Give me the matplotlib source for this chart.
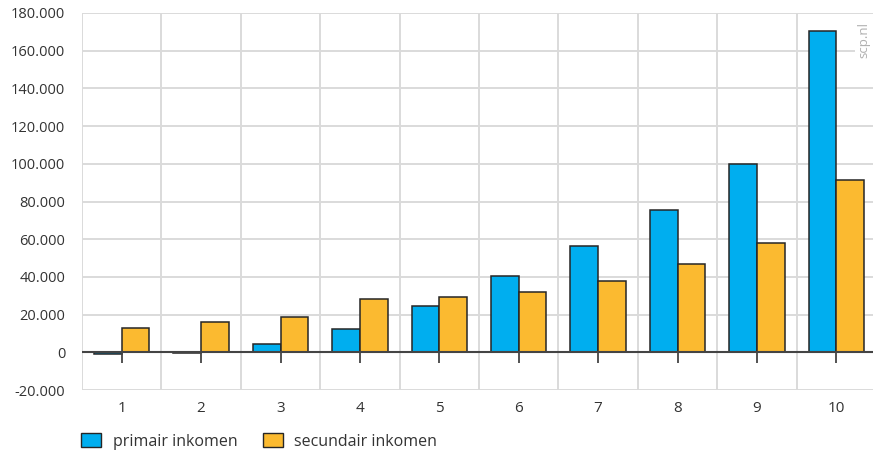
import numpy as np
import matplotlib.pyplot as plt
from matplotlib.patches import Patch
from matplotlib.ticker import FuncFormatter

plt.rcParams['font.family'] = ['Open Sans', 'DejaVu Sans']

#--------------------------------------
categories = ['1', '2', '3', '4', '5', '6', '7', '8', '9', '10']
primair    = [-1000, -300, 4300, 12300, 24500, 40300, 56300, 75400, 99700, 170700]
secundair  = [12800, 15900, 18700, 28100, 29300, 31900, 37700, 46700, 57900, 91200]
yticks     = np.arange(-20000, 180001, 20000)
#--------------------------------------
blue   = '#00aeef'
orange = '#fbba30'
edge   = '#262626'
grid   = '#dadada'
text   = '#333333'

fig = plt.figure(figsize=(8.73, 4.54), dpi=100)
ax  = fig.add_axes([82/873, 1-390/454, 794/873, 377/454])

x = np.arange(len(categories))
w = 0.35
ax.bar(x-w/2, primair, w, color=blue, edgecolor=edge, linewidth=1.1, zorder=3)
ax.bar(x+w/2, secundair, w, color=orange, edgecolor=edge, linewidth=1.1, zorder=3)

ax.set_xlim(-0.5, len(categories)-0.5)
ax.set_ylim(-20000, 180000)

# grid
ax.set_yticks(yticks)
ax.set_xticks(x)
ax.set_xticklabels(categories)
ax.set_xticks(np.arange(-0.5, len(categories)), minor=True)
ax.grid(True, which='major', axis='y', color=grid, linewidth=1.4, zorder=0)
ax.grid(True, which='minor', axis='x', color=grid, linewidth=1.4, zorder=0)
ax.tick_params(which='both', length=0)
ax.tick_params(axis='y', pad=12, labelsize=10.5, labelcolor=text)
ax.tick_params(axis='x', pad=8, labelsize=11, labelcolor=text)
ax.yaxis.set_major_formatter(FuncFormatter(lambda v, p: '{:,.0f}'.format(v).replace(',', '.')))
for s in ax.spines.values():
    s.set_visible(False)

# zero line + tick marks
ax.axhline(0, color='#444444', linewidth=1.5, zorder=4)
ax.plot(x, np.zeros(len(x)), linestyle='none', marker=3, markersize=8,
        markeredgewidth=1.3, color='#444444', zorder=4, clip_on=False)

ax.text(0.985, 0.975, 'scp.nl', transform=ax.transAxes, rotation=90,
        ha='center', va='top', fontsize=9.5, color='#b0b0b0', zorder=5,
        bbox=dict(facecolor='white', edgecolor='none', pad=1.5))

handles = [Patch(facecolor=blue, edgecolor=edge, label='primair inkomen'),
           Patch(facecolor=orange, edgecolor=edge, label='secundair inkomen')]
fig.legend(handles=handles, loc='lower left', bbox_to_anchor=(67/873, -0.022),
           ncol=2, frameon=False, fontsize=11.5, handlelength=1.25, handleheight=0.9,
           handletextpad=0.7, columnspacing=1.6, labelcolor=text)

fig.savefig('out.png', dpi=100)
